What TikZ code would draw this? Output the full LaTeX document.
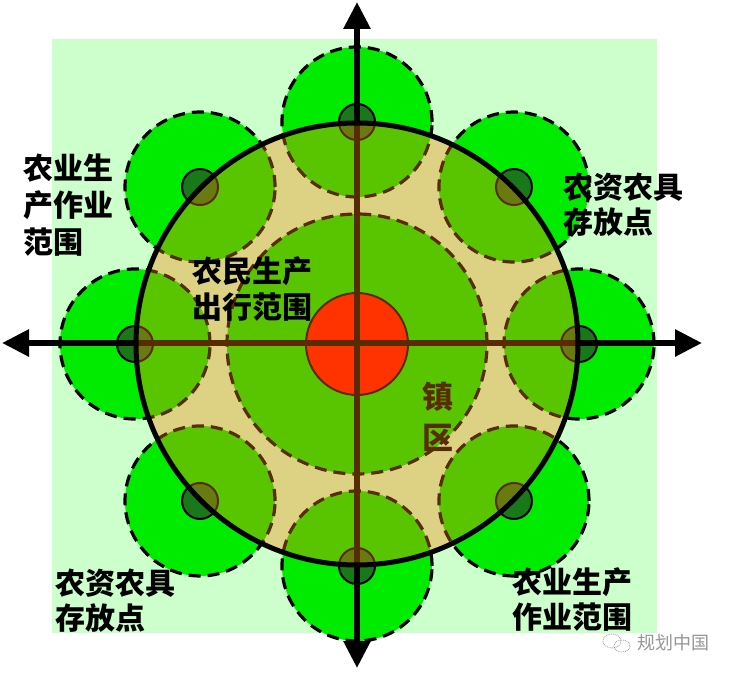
\documentclass[tikz,border=0pt]{standalone}
\usepackage{fontspec}
\newfontfamily\cjk{Noto Sans CJK SC}
\usetikzlibrary{arrows.meta}
\definecolor{bglight}{RGB}{204,255,204}
\definecolor{zonegreen}{RGB}{0,235,0}
\definecolor{dotgreen}{RGB}{25,120,25}
\definecolor{townred}{RGB}{255,10,0}
\definecolor{overlay}{RGB}{255,128,0}
\definecolor{wmgray}{RGB}{150,150,150}
\tikzset{
  zone/.style={fill=zonegreen, draw=black, line width=3.2pt, dash pattern=on 12pt off 7pt},
  depot/.style={fill=dotgreen, draw=black, line width=2pt},
  axis/.style={line width=6pt, draw=black, {Triangle[width=26pt,length=27pt]}-{Triangle[width=26pt,length=27pt]}},
  lab/.style={font=\cjk\bfseries\fontsize{30}{36}\selectfont, inner sep=0pt, anchor=base west},
  townlab/.style={font=\cjk\bfseries\fontsize{31}{36}\selectfont, inner sep=0pt, anchor=base west},
}
\begin{document}
\begin{tikzpicture}[x=1pt,y=-1pt]
\useasboundingbox (0,0) rectangle (732,674);
\fill[white] (0,0) rectangle (732,674);
\fill[bglight] (52,39) rectangle (657,633);
\coordinate (c) at (357,344);
% outer zones
\foreach \a in {0,45,...,315} {
  \path[zone] (c) ++(\a:222pt) circle[radius=75pt];
}
% inner zone
\path[zone] (c) circle[radius=130pt];
% depots
\foreach \a in {0,45,...,315} {
  \path[depot] (c) ++(\a:222pt) circle[radius=18pt];
}
% town center
\path[fill=townred, draw=black, line width=2pt] (c) circle[radius=51pt];
% axes
\coordinate (ybot) at (357,668);
\coordinate (ytop) at (357,2);
\coordinate (xl) at (2,343);
\coordinate (xr) at (702,343);
\draw[axis] (ybot) -- (ytop);
\draw[axis] (xl) -- (xr);
% town label (under overlay)
\node[townlab] (t1) at (422,408) {镇};
\node[townlab] (t2) at (422,449) {区};
% overlay circle
\path[fill=overlay, fill opacity=0.35, draw=black, line width=5pt] (c) circle[radius=221pt];
% labels
\node[lab] (a1) at (23,180) {农业生};
\node[lab] (a2) at (23,217) {产作业};
\node[lab] (a3) at (23,254) {范围};
\node[lab] (b1) at (563,199) {农资农具};
\node[lab] (b2) at (563,234) {存放点};
\node[lab] (m1) at (192,283) {农民生产};
\node[lab] (m2) at (192,319) {出行范围};
\node[lab] (d1) at (55,594) {农资农具};
\node[lab] (d2) at (55,629) {存放点};
\node[lab] (e1) at (512,593) {农业生产};
\node[lab] (e2) at (512,628) {作业范围};
% watermark
\draw[wmgray, line width=0.8pt, densely dotted] (612,641) ellipse[x radius=9pt, y radius=7pt];
\draw[wmgray, line width=0.8pt, densely dotted] (622,646) ellipse[x radius=8pt, y radius=6pt];
\node[font=\cjk\fontsize{18}{20}\selectfont, text=wmgray, inner sep=0pt, anchor=base west] (wm) at (637,649) {规划中国};
\end{tikzpicture}
\end{document}
